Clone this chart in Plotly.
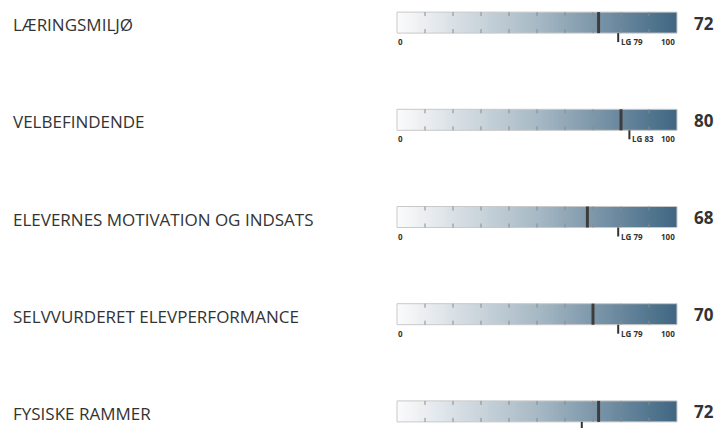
import numpy as np
import plotly.graph_objects as go

# ---- data ----
categories = ["LÆRINGSMILJØ", "VELBEFINDENDE", "ELEVERNES MOTIVATION OG INDSATS",
              "SELVVURDERET ELEVPERFORMANCE", "FYSISKE RAMMER"]
values = [72, 80, 68, 70, 72]
lg_values = [79, 83, 79, 79, 66]
lg_label = "LG"
scale_min, scale_max = 0, 100
tick_values = [10, 20, 30, 40, 50, 60, 70, 80, 90]

# ---- layout constants (pixels -> axis units) ----
W, H = 716, 428
x0_px, x1_px = 397, 677
pxu = (x1_px - x0_px) / (scale_max - scale_min)
pitch = 97.2
c0 = 22.6
half = 10.5 / pitch
tick_len = 4 / pitch
lg_len = 9 / pitch

FONT = "Open Sans"
TXT = "#333333"

fig = go.Figure()

edges = np.linspace(scale_min, scale_max, 301)
centers = (edges[:-1] + edges[1:]) / 2
for i, cat in enumerate(categories):
    fig.add_trace(go.Heatmap(
        x=edges, y=[i - half, i + half], z=[centers],
        zmin=scale_min, zmax=scale_max,
        colorscale=[[0, "#fbfbfc"], [0.5, "#a7b9c5"], [1, "#3f6682"]],
        showscale=False, hoverinfo="skip", zsmooth=False,
    ))

shapes = []
annotations = []
for i, cat in enumerate(categories):
    top, bot = i - half, i + half
    # outline
    shapes.append(dict(type="rect", xref="x", yref="y", x0=scale_min, x1=scale_max,
                       y0=top, y1=bot, line=dict(color="#c9c9c9", width=1)))
    # ticks
    for t in tick_values:
        shapes.append(dict(type="line", xref="x", yref="y", x0=t, x1=t, y0=top, y1=top + tick_len,
                           line=dict(color="#8a8a8a", width=1)))
        shapes.append(dict(type="line", xref="x", yref="y", x0=t, x1=t, y0=bot - tick_len, y1=bot,
                           line=dict(color="#8a8a8a", width=1)))
    # value marker
    shapes.append(dict(type="line", xref="x", yref="y", x0=values[i], x1=values[i], y0=top, y1=bot,
                       line=dict(color="#3d3d3d", width=3)))
    # LG marker
    shapes.append(dict(type="line", xref="x", yref="y", x0=lg_values[i], x1=lg_values[i],
                       y0=bot, y1=bot + lg_len, line=dict(color="#333333", width=2)))
    # category label
    annotations.append(dict(xref="paper", yref="y", x=11 / W, y=i + 2 / pitch, text=cat,
                            showarrow=False, xanchor="left", yanchor="middle",
                            font=dict(family=FONT, size=17, color=TXT)))
    # value label
    annotations.append(dict(xref="paper", yref="y", x=704 / W, y=i + 0.5 / pitch, text=str(values[i]),
                            showarrow=False, xanchor="center", yanchor="middle",
                            font=dict(family=FONT, size=17, color=TXT, weight="bold")))
    # scale labels
    annotations.append(dict(xref="x", yref="y", x=scale_min, y=bot + 1 / pitch, text=str(scale_min),
                            showarrow=False, xanchor="left", yanchor="top", xshift=-1,
                            font=dict(family=FONT, size=8, color=TXT, weight="bold")))
    annotations.append(dict(xref="x", yref="y", x=scale_max, y=bot + 1 / pitch, text=str(scale_max),
                            showarrow=False, xanchor="right", yanchor="top",
                            font=dict(family=FONT, size=8, color=TXT, weight="bold")))
    annotations.append(dict(xref="x", yref="y", x=lg_values[i], y=bot + 1 / pitch,
                            text=f"{lg_label} {lg_values[i]}", showarrow=False,
                            xanchor="left", yanchor="top", xshift=1,
                            font=dict(family=FONT, size=8, color=TXT, weight="bold")))

fig.update_layout(
    width=W, height=H,
    margin=dict(l=0, r=0, t=0, b=0),
    paper_bgcolor="white", plot_bgcolor="white",
    xaxis=dict(range=[scale_min - x0_px / pxu, scale_min + (W - x0_px) / pxu],
               visible=False, fixedrange=True),
    yaxis=dict(range=[(H - c0) / pitch, -c0 / pitch], visible=False, fixedrange=True),
    shapes=shapes, annotations=annotations, showlegend=False,
)

fig.write_html("out.html", config={"displayModeBar": False},
               post_script="document.body.style.margin='0';document.body.style.overflow='hidden';")
